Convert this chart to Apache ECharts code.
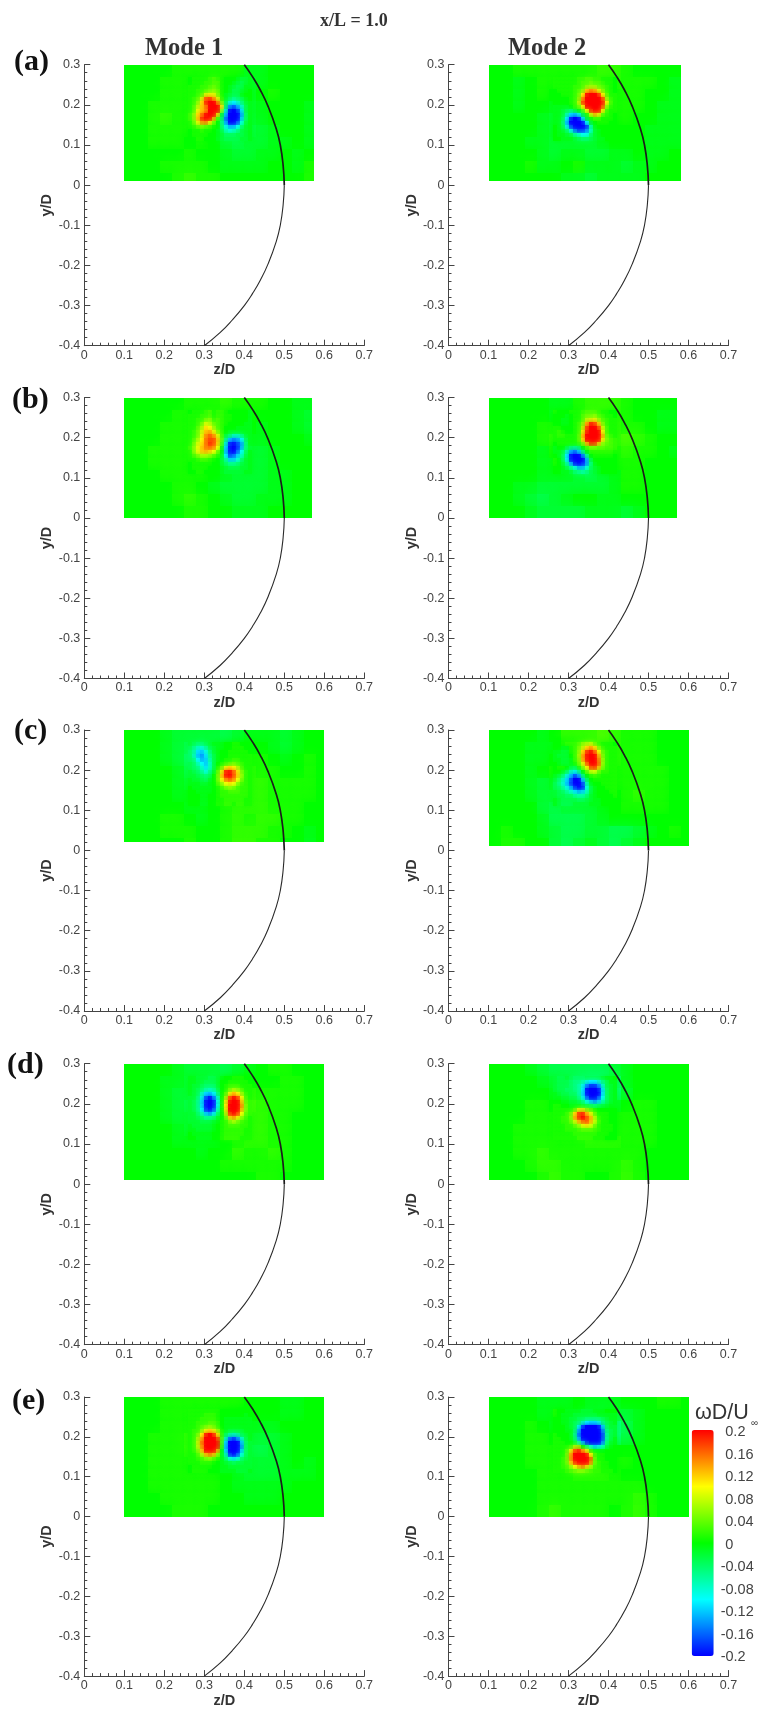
<!DOCTYPE html>
<html><head><meta charset="utf-8">
<style>html,body{margin:0;padding:0;background:#fff}#c{width:771px;height:1709px;filter:blur(0.5px)}</style>
<script src="https://cdn.jsdelivr.net/npm/echarts@6/dist/echarts.min.js"></script>
</head><body><div id="c"></div>
<script>
// Vorticity, in hundredths of wD/Uinf.
// bg*: whole measured plane, coarse cells, rows from y/D = 0.3 downward, columns from z/D = 0.1.
// core*: vortex region, fine cells, rows from y/D = 0.27 downward, columns from z/D = 0.26.
const bgA1=[[0,0,0,0,1,1,1,1,1,1,-1,-1,0,0,0,0,0],[0,0,0,1,1,1,1,2,2,-1,-2,-1,0,0,0,0,0],[0,0,0,1,1,1,1,2,0,-2,-2,0,1,0,0,0,0],[0,0,1,1,1,1,2,2,-3,-3,-2,-1,0,0,0,-1,0],[0,0,1,2,1,1,2,2,-3,-3,-2,-1,0,0,0,-1,0],[0,0,1,1,1,1,1,1,-3,-4,-3,-2,-1,0,0,-1,0],[0,0,1,1,1,0,1,0,-2,-3,-2,-2,-1,-1,0,-1,1],[0,0,0,0,0,1,0,0,-1,-2,-2,-1,-1,0,-1,0,1],[0,0,0,1,1,1,1,0,-1,-1,-1,-1,0,0,-1,1,2],[0,0,0,0,1,2,1,1,0,0,0,0,0,0,0,1,2]];
const bgA2=[[0,0,1,1,1,1,1,1,1,2,2,1,0,0,0,0,0],[0,0,-1,0,1,1,1,1,2,3,2,1,1,1,0,-1,0],[0,0,-1,0,1,0,0,0,2,2,1,1,1,0,0,-1,0],[0,0,-1,0,0,-1,0,0,0,1,1,1,1,0,-1,-1,0],[0,0,0,0,-1,-2,-1,0,0,1,1,1,0,0,-1,-1,0],[0,0,0,0,-1,-2,-1,-1,-2,-1,0,0,0,-1,-1,-1,0],[0,0,0,-1,-1,-2,-2,-2,-2,-1,0,0,0,-1,-1,-1,0],[0,0,0,0,-1,-2,-1,-1,-2,-2,-1,-1,0,-1,-1,0,0],[0,0,0,1,-1,-1,0,1,-1,-1,-1,-2,-1,-1,0,0,0],[0,0,0,0,0,0,-1,-1,-2,-1,-1,-1,-1,0,0,0,0]];
const bgB1=[[0,0,0,0,0,1,1,1,2,1,1,1,0,0,-1,-1,0],[0,0,0,0,1,1,1,1,1,1,1,0,0,0,-1,-2,0],[0,0,0,1,1,1,1,1,1,0,0,-1,0,0,-1,-2,0],[0,0,0,1,1,1,2,2,0,-1,-1,-1,0,0,0,-1,0],[0,0,1,1,1,1,2,2,0,-2,-2,-2,-1,0,0,0,0],[0,0,1,1,1,1,1,1,-1,-2,-2,-2,-1,0,0,0,0],[0,0,0,1,1,1,1,0,-1,-2,-2,-2,-1,-1,0,0,0],[0,0,0,0,1,1,0,-1,-2,-2,-2,-2,-1,-1,0,0,0],[0,0,0,0,1,2,1,0,-1,-2,-2,-1,-1,-1,0,0,0],[0,0,0,0,0,1,1,0,0,-1,-1,-1,0,0,0,0,0]];
const bgB2=[[0,0,0,0,0,-1,-1,1,2,2,2,1,0,0,0,0,0],[0,0,0,0,0,-1,-1,1,2,3,2,1,0,0,-1,-1,0],[0,0,0,0,1,1,1,1,2,2,2,1,1,0,-1,-1,0],[0,0,0,0,1,2,2,1,1,2,2,3,2,1,0,0,0],[0,0,0,0,-1,1,1,0,0,1,1,2,1,1,0,-1,0],[0,0,0,0,-1,-1,-1,-1,-2,0,1,1,1,0,0,0,0],[0,0,0,0,-1,-1,-1,-2,-3,-2,-1,1,1,0,0,0,0],[0,0,-1,-1,-2,-2,-2,-2,-2,-2,-1,1,1,0,0,0,0],[0,0,-1,-2,-3,-2,-1,0,0,-1,-1,0,0,0,0,0,0],[0,0,0,-1,-2,-2,-2,-2,-1,-1,-1,-2,-1,0,0,0,0]];
const bgC1=[[0,0,0,-1,-2,-2,-2,-2,-3,-2,-1,-1,-1,-2,-1,0,0],[0,0,0,-1,-2,-3,-4,-3,-2,-1,0,0,-1,-2,-1,0,0],[0,0,0,-1,-2,-4,-5,-3,-1,0,1,1,0,-1,0,1,0],[0,0,0,0,-1,-3,-3,-2,0,1,2,1,1,0,0,1,0],[0,0,0,0,-1,-2,-2,-1,0,1,2,2,1,1,1,1,0],[0,0,0,0,-1,-1,-1,0,1,2,2,2,1,1,1,1,0],[0,0,0,0,0,-1,-1,0,1,2,2,2,1,1,1,0,0],[0,0,0,1,1,0,-1,0,1,2,1,2,2,1,1,0,0],[0,0,0,1,1,1,0,0,1,2,2,2,1,1,0,-1,0],[0,0,0,0,0,1,0,0,1,2,2,1,1,0,0,-1,0]];
const bgC2=[[0,0,0,0,-1,0,2,2,2,3,2,1,1,1,0,0,0],[0,0,0,-1,-1,-1,0,1,2,3,2,1,1,1,0,0,0],[0,0,0,-1,-1,0,0,0,2,2,2,1,1,1,0,0,0],[0,0,0,-1,0,1,0,0,1,2,1,1,1,1,1,0,0],[0,0,0,-1,-2,-1,-1,-2,0,1,1,1,1,1,1,0,0],[0,0,0,-1,-2,-2,-2,-2,-2,0,0,1,2,1,1,0,0],[0,0,0,0,-2,-3,-2,-2,-2,-1,0,1,1,1,1,0,0],[0,0,0,0,-1,-3,-3,-3,-2,-1,0,0,0,0,0,0,0],[0,1,0,0,-1,-2,-3,-3,-2,-2,-3,-3,-2,-1,0,1,0],[0,1,1,0,0,-2,-3,-2,-1,-2,-3,-2,-1,0,0,0,0]];
const bgD1=[[0,0,0,0,-1,-2,-2,-2,-3,-2,-1,0,1,1,0,0,0],[0,0,0,-1,-1,-2,-2,-3,-2,0,0,0,0,1,1,0,0],[0,0,0,-1,-2,-2,-3,-4,0,2,2,1,1,1,1,0,0],[0,0,0,-1,-2,-3,-3,-4,0,3,3,2,1,1,1,0,0],[0,0,0,-1,-2,-2,-2,-2,0,2,2,2,1,1,0,0,0],[0,0,0,0,-1,-2,-2,-2,0,2,2,2,1,1,0,0,0],[0,0,0,0,-1,-1,-1,-1,0,1,2,2,1,1,0,0,0],[0,0,0,0,0,0,-1,0,0,2,1,1,2,1,0,0,0],[0,0,0,0,0,0,0,0,1,1,1,1,1,1,0,0,0],[0,0,0,0,0,0,0,0,0,0,0,1,1,0,0,0,0]];
const bgD2=[[0,0,0,-1,-2,-3,-3,-3,-3,-3,-2,-1,0,0,0,0,0],[0,0,0,0,-1,-2,-3,-4,-6,-6,-5,-1,0,0,0,0,0],[0,0,0,0,0,-1,-2,-4,-10,-10,-6,-2,0,0,0,0,0],[0,0,0,1,1,0,0,-1,-3,-3,-2,0,1,1,0,0,0],[0,0,0,1,1,1,1,5,6,3,1,1,1,1,0,0,0],[0,0,1,1,1,1,2,3,4,3,1,1,1,1,0,0,0],[0,0,1,1,1,1,1,1,2,2,2,1,1,1,0,0,0],[0,0,1,1,2,1,1,1,1,1,1,1,1,0,0,0,0],[0,0,0,1,2,2,1,1,1,1,1,2,1,0,0,0,0],[0,0,0,0,1,2,1,1,0,0,1,2,1,0,0,0,0]];
const bgE1=[[0,0,0,1,1,1,1,1,1,1,0,0,0,-1,-1,0,0],[0,0,0,1,1,1,1,1,1,0,0,0,0,-1,-1,0,0],[0,0,0,1,1,1,1,1,1,-1,-1,-1,-1,0,0,0,0],[0,0,1,1,1,2,2,1,1,-2,-2,-2,-2,-1,0,0,0],[0,0,1,1,1,2,2,1,1,-2,-3,-3,-2,-1,0,0,0],[0,0,1,1,1,1,1,1,0,-1,-2,-2,-2,-1,0,-1,0],[0,0,1,1,1,1,1,1,0,-1,-2,-2,-2,-1,-1,-1,0],[0,0,1,1,1,1,1,1,0,-1,-1,-1,-1,-1,0,0,0],[0,0,0,1,1,1,1,1,0,0,-1,-1,-1,0,0,0,0],[0,0,0,0,1,1,1,0,0,0,0,0,0,0,0,0,0]];
const bgE2=[[0,0,0,0,-1,-1,-1,0,-1,-1,-1,0,0,0,1,1,0],[0,0,0,0,-1,-1,-1,-1,-2,-3,-2,-2,-1,0,0,0,0],[0,0,0,1,0,-1,-1,-1,-5,-8,-6,-3,-1,0,0,0,0],[0,0,0,1,1,0,0,0,-5,-8,-6,-3,-1,0,0,0,0],[0,0,0,1,1,1,1,2,5,3,0,0,0,0,0,0,0],[0,0,0,1,1,1,1,3,5,3,1,1,0,0,0,0,0],[0,0,0,0,1,1,1,2,2,2,1,0,0,0,0,0,0],[0,0,0,0,1,1,1,1,1,1,1,1,1,0,0,0,0],[0,0,0,0,1,1,1,1,1,1,1,1,2,1,0,0,0],[0,0,0,0,1,2,1,1,1,1,0,1,2,1,0,0,0]];

const coreA1=[[0,1,1,1,1,2,3,2,1,0,0,0,-1,-2,-2,-1],[0,1,1,1,2,2,3,3,1,0,0,-1,-2,-3,-2,-1],[1,1,1,2,2,3,4,3,1,0,-1,-2,-3,-3,-1,-1],[1,1,2,2,3,4,5,4,1,0,-1,-3,-3,-2,-1,0],[1,1,2,3,8,9,9,5,1,-1,-2,-3,-3,-1,0,0],[1,2,3,8,16,17,14,9,2,-1,-3,-5,-4,-3,-1,0],[1,2,5,11,18,20,20,15,5,-3,-8,-10,-8,-5,-2,-1],[1,3,7,12,15,20,20,20,11,-4,-14,-16,-13,-8,-3,-1],[1,3,9,12,14,20,20,20,6,-8,-19,-20,-18,-11,-3,-1],[2,5,11,15,19,20,20,12,-2,-12,-20,-20,-20,-13,-4,-1],[2,5,12,18,20,20,14,3,-4,-15,-20,-20,-20,-12,-4,-1],[1,4,9,14,15,11,5,0,-5,-13,-20,-20,-17,-9,-3,-1],[1,2,4,5,4,3,1,0,-4,-9,-13,-13,-10,-5,-2,-1],[0,1,1,2,1,1,0,-1,-3,-7,-9,-8,-6,-3,-2,-1],[0,1,1,1,1,0,0,-1,-2,-4,-4,-4,-3,-3,-2,-1],[0,0,1,1,0,0,0,-1,-2,-3,-3,-3,-3,-2,-2,-1]];
const coreA2=[[1,1,1,1,1,1,2,2,3,3,2,2,1,1,1,0],[1,1,1,1,1,1,2,3,3,4,3,3,2,1,1,0],[1,1,1,1,1,2,2,3,5,6,6,4,3,2,1,0],[0,1,1,1,1,2,3,5,12,14,13,9,5,2,1,0],[0,0,1,1,1,2,4,10,19,20,20,18,10,4,1,1],[0,0,0,0,1,2,5,14,20,20,20,20,17,6,2,1],[0,0,0,0,1,2,7,17,20,20,20,20,19,10,3,1],[-1,-1,-1,-1,0,2,4,10,20,20,20,20,17,6,2,1],[-1,-1,-2,-3,-4,-2,0,3,10,18,20,20,11,3,1,1],[-1,-1,-2,-6,-11,-12,-9,-3,1,8,13,11,4,2,1,0],[-1,-1,-3,-10,-18,-20,-19,-11,-2,1,3,3,1,1,1,0],[-1,-1,-4,-12,-20,-20,-20,-19,-10,-2,0,1,1,1,0,0],[0,-1,-3,-9,-17,-20,-20,-20,-18,-7,-1,0,0,0,0,0],[0,-1,-2,-4,-9,-15,-18,-18,-15,-8,-2,-1,0,0,0,0],[0,-1,-1,-2,-3,-6,-8,-10,-10,-5,-2,-1,0,0,0,0],[0,0,-1,-1,-1,-2,-3,-4,-4,-3,-2,-1,-1,0,0,0]];
const coreB1=[[0,1,1,1,2,3,1,2,2,1,0,0,0,0,0,-1],[1,1,1,2,2,3,1,2,2,1,1,0,0,0,0,-1],[1,1,2,2,4,5,2,3,2,1,1,0,0,0,0,-1],[1,1,2,4,8,7,4,3,2,1,0,0,0,0,-1,-1],[1,1,3,6,11,10,6,3,2,0,0,0,-1,-1,-1,-1],[1,2,4,8,12,13,9,5,2,0,-1,-1,-1,-1,-1,-1],[1,2,4,9,14,16,14,9,3,-2,-4,-7,-7,-5,-2,-1],[1,3,6,10,15,17,17,12,4,-5,-12,-14,-13,-10,-4,-1],[1,4,8,11,15,18,17,12,3,-8,-18,-19,-17,-13,-5,-1],[2,5,9,12,15,16,15,10,1,-11,-19,-20,-18,-13,-5,-2],[1,5,9,12,13,12,10,5,0,-12,-19,-20,-16,-10,-4,-1],[1,3,5,7,7,6,4,2,-1,-10,-17,-16,-12,-8,-3,-1],[1,1,2,3,3,2,1,0,-2,-6,-12,-12,-9,-5,-2,-1],[0,1,1,1,1,1,0,0,-2,-4,-6,-6,-5,-3,-2,-1],[0,1,1,1,1,0,0,0,-1,-2,-3,-3,-3,-2,-2,-1],[0,0,1,1,0,0,0,0,-1,-2,-2,-2,-2,-2,-1,-1]];
const coreB2=[[1,0,0,0,1,1,1,2,3,3,3,2,1,1,0,0],[0,0,0,-1,0,1,1,3,4,4,5,3,2,1,1,0],[0,0,-1,-1,0,1,1,3,7,8,9,6,3,2,1,1],[0,0,-1,-1,0,1,2,5,13,18,17,12,5,2,1,1],[1,1,0,0,0,1,2,7,17,20,20,17,8,3,1,1],[1,2,1,0,0,1,2,9,18,20,20,20,10,3,1,1],[1,2,2,1,1,1,3,12,20,20,20,20,13,4,2,1],[1,1,1,1,1,1,3,11,20,20,20,20,11,5,3,2],[0,1,1,1,1,1,2,5,13,18,18,13,6,4,3,2],[-1,0,0,-2,-4,-5,-4,0,3,5,5,4,4,3,3,2],[-1,-1,-2,-7,-13,-15,-12,-5,0,2,2,2,2,2,2,1],[0,-1,-3,-10,-19,-20,-20,-15,-6,0,1,1,1,1,1,0],[1,0,-3,-10,-19,-20,-20,-20,-13,-3,0,0,0,0,0,0],[1,0,-2,-6,-13,-19,-20,-19,-14,-5,-1,0,0,0,0,0],[0,0,-1,-3,-6,-9,-13,-13,-9,-4,-2,-1,0,0,0,0],[0,0,-1,-1,-2,-4,-5,-6,-5,-3,-2,-1,0,0,0,0]];
const coreC1=[[-2,-3,-4,-4,-3,-2,-1,-1,-1,0,0,1,1,0,0,0],[-3,-5,-7,-8,-6,-3,-2,-1,-1,0,0,1,1,1,0,0],[-4,-6,-11,-12,-9,-5,-2,-1,0,0,1,1,1,1,1,0],[-4,-7,-12,-14,-11,-6,-3,-1,0,0,1,1,1,1,1,1],[-4,-5,-10,-13,-12,-7,-3,-1,0,1,1,2,2,1,1,1],[-3,-4,-7,-10,-12,-8,-3,0,1,2,3,4,3,2,1,1],[-3,-4,-5,-8,-11,-8,-3,1,4,9,11,10,7,3,1,1],[-2,-3,-4,-6,-9,-6,-2,3,9,18,19,16,11,5,2,1],[-2,-2,-3,-4,-5,-4,0,4,12,19,20,17,12,6,2,1],[-1,-2,-2,-3,-4,-2,0,4,10,15,17,15,10,5,2,1],[-1,-1,-1,-2,-2,-1,0,3,6,10,11,10,6,3,2,1],[0,-1,-1,-1,-1,-1,0,1,3,5,6,5,3,2,2,1],[0,0,-1,-1,-1,-1,0,1,2,2,3,3,3,2,2,1],[0,0,0,-1,-1,0,0,1,2,2,2,2,2,2,2,1],[0,0,0,-1,-1,0,0,1,1,2,2,2,2,2,1,1],[0,0,0,-1,-1,0,0,1,1,2,2,1,2,2,1,1]];
const coreC2=[[0,0,1,2,2,2,3,5,6,7,4,2,1,1,1,0],[0,0,-1,-1,1,2,4,7,11,13,11,5,2,1,1,1],[-1,-1,-2,-2,1,2,5,11,17,19,16,10,4,2,1,1],[-1,-2,-2,-2,0,2,6,13,19,20,20,13,5,2,1,1],[-1,-1,-2,-2,-1,2,5,13,19,20,20,15,6,2,1,1],[0,-1,-2,-2,-1,1,4,9,16,20,20,16,6,2,1,1],[0,1,1,0,-2,-3,1,5,10,17,18,13,5,2,1,1],[0,0,-1,-3,-7,-9,-6,0,4,8,9,5,2,2,1,1],[-1,-2,-4,-8,-12,-16,-13,-5,0,2,3,2,1,1,1,1],[-2,-4,-7,-11,-16,-20,-20,-12,-4,0,1,1,1,1,1,1],[-3,-5,-8,-12,-17,-20,-20,-17,-7,-1,0,0,1,1,1,1],[-3,-4,-6,-9,-13,-18,-20,-19,-9,-3,-1,0,0,1,1,1],[-2,-3,-4,-6,-8,-11,-13,-12,-8,-3,-1,0,0,0,1,1],[-2,-3,-3,-4,-4,-6,-7,-7,-5,-2,-1,0,0,0,0,1],[-1,-2,-3,-3,-3,-3,-4,-4,-3,-2,-1,-1,0,0,0,0],[-1,-2,-3,-3,-3,-2,-2,-2,-2,-1,-1,-1,0,0,0,0]];
const coreD1=[[-1,-1,-2,-2,-2,-3,-3,-2,-1,0,0,1,1,1,0,0],[-1,-1,-2,-2,-3,-3,-3,-2,0,0,1,1,1,1,1,0],[-1,-2,-2,-3,-4,-4,-4,-2,0,1,2,2,2,1,1,1],[-1,-2,-3,-4,-6,-7,-6,-3,0,1,4,6,5,3,1,1],[-1,-2,-3,-7,-11,-12,-10,-5,0,3,9,12,10,6,2,1],[-2,-2,-4,-9,-16,-19,-15,-8,0,6,16,19,17,10,3,1],[-2,-3,-5,-11,-19,-20,-19,-10,0,9,19,20,20,12,4,2],[-2,-3,-5,-11,-19,-20,-19,-10,0,10,20,20,20,14,5,2],[-2,-3,-5,-10,-18,-20,-17,-8,0,9,20,20,20,13,5,2],[-2,-2,-4,-7,-12,-14,-11,-5,0,7,18,20,18,10,4,2],[-2,-2,-3,-4,-6,-6,-5,-2,0,4,12,14,11,6,3,1],[-2,-2,-2,-3,-3,-3,-2,-1,1,2,5,7,5,3,2,1],[-1,-2,-2,-2,-2,-2,-1,0,1,2,3,3,3,2,2,1],[-1,-1,-2,-2,-2,-2,-1,0,1,2,2,2,2,2,1,1],[0,-1,-1,-1,-1,-1,0,0,1,2,2,2,2,2,1,1],[0,0,-1,-1,-1,-1,0,0,1,2,2,2,2,1,1,1]];
const coreD2=[[-2,-3,-3,-2,-3,-4,-4,-4,-3,-3,-3,-3,-2,-1,-1,0],[-2,-3,-3,-3,-4,-5,-5,-6,-8,-10,-10,-8,-5,-3,-1,-1],[-2,-3,-3,-3,-4,-5,-6,-9,-14,-17,-17,-14,-8,-3,-2,-1],[-2,-3,-3,-4,-4,-5,-6,-10,-19,-20,-20,-19,-11,-4,-2,-1],[-1,-2,-3,-3,-4,-4,-6,-11,-19,-20,-20,-20,-11,-4,-2,-1],[-1,-1,-2,-2,-3,-3,-5,-9,-16,-20,-20,-17,-10,-4,-2,-1],[0,0,-1,-1,-2,-2,-3,-5,-9,-12,-14,-12,-7,-4,-2,-1],[1,1,0,0,-1,-1,-1,-2,-3,-4,-5,-4,-3,-2,-1,-1],[1,1,1,1,1,3,8,8,5,3,1,0,0,0,0,0],[1,1,1,2,4,11,17,18,13,9,4,1,1,1,0,0],[1,1,2,2,5,13,18,20,17,13,7,2,1,1,0,0],[1,1,2,2,4,8,13,16,17,13,8,3,1,1,0,0],[1,1,1,2,2,4,6,9,11,9,5,2,1,1,1,0],[1,1,1,2,2,2,3,4,4,4,3,2,1,1,1,0],[1,1,1,1,1,2,2,2,2,2,2,1,1,1,0,0],[1,1,1,1,1,1,2,2,2,2,1,1,1,0,0,0]];
const coreE1=[[1,1,1,1,1,1,1,1,0,0,0,0,0,0,0,0],[1,1,1,1,2,2,2,1,0,0,0,0,0,0,-1,0],[1,1,1,2,2,2,2,1,0,-1,-1,-1,-1,-1,-1,-1],[1,1,2,2,2,3,3,2,0,-1,-1,-1,-1,-1,-1,-1],[1,1,2,3,4,5,4,2,0,-1,-1,-1,-1,-1,-1,-1],[1,2,2,5,9,11,9,6,1,-1,-2,-2,-2,-2,-1,-1],[1,2,4,10,18,20,18,11,2,-3,-6,-7,-6,-3,-2,-1],[1,2,6,13,20,20,20,17,3,-7,-15,-17,-14,-8,-3,-1],[1,2,7,15,20,20,20,19,3,-11,-20,-20,-20,-12,-4,-2],[1,2,7,14,20,20,20,19,2,-12,-20,-20,-20,-14,-4,-2],[1,2,5,12,20,20,20,14,0,-11,-20,-20,-20,-12,-4,-2],[1,1,3,7,13,15,13,6,-1,-7,-18,-20,-17,-9,-4,-2],[1,1,2,3,5,6,4,2,-1,-4,-9,-11,-9,-5,-3,-2],[1,1,1,2,2,2,1,0,-1,-2,-3,-4,-3,-3,-2,-2],[0,1,1,1,1,1,0,0,-1,-1,-2,-2,-2,-2,-2,-2],[0,1,1,1,1,0,0,0,-1,-1,-1,-1,-2,-2,-2,-1]];
const coreE2=[[1,0,0,-1,-1,-1,-1,-2,-2,-2,-1,-1,-1,0,0,0],[1,0,-1,-1,-1,-2,-2,-2,-2,-2,-2,-1,-1,-1,-1,-1],[0,0,-1,-1,-2,-2,-3,-3,-4,-4,-4,-4,-3,-2,-1,-1],[0,0,-1,-1,-2,-3,-4,-7,-10,-11,-11,-9,-5,-3,-2,-1],[0,0,0,-1,-2,-3,-9,-17,-20,-20,-20,-19,-12,-4,-2,-2],[0,0,0,-1,-1,-4,-13,-20,-20,-20,-20,-20,-15,-5,-3,-2],[1,0,0,0,-1,-5,-15,-20,-20,-20,-20,-20,-17,-6,-3,-2],[1,1,0,0,-1,-4,-13,-20,-20,-20,-20,-20,-17,-6,-3,-1],[1,1,1,0,0,-2,-6,-13,-18,-20,-20,-20,-15,-5,-2,-1],[1,1,1,1,2,6,6,0,-4,-8,-12,-11,-8,-3,-1,0],[1,1,1,3,9,16,18,14,9,2,-1,-1,-1,0,0,0],[1,1,1,4,13,20,20,20,19,10,3,1,1,0,0,0],[1,1,2,4,14,20,20,20,20,16,4,1,1,0,0,0],[1,1,2,4,12,18,20,20,20,15,4,2,1,1,0,0],[1,1,2,3,6,10,13,15,12,7,3,2,1,1,0,0],[1,1,1,2,3,4,5,5,4,3,2,2,1,1,1,0]];

// Upper and lower parts of the body outline (z/D, y/D).
const outlineUpper=[[0.4,0.3],[0.42,0.271],[0.44,0.237],[0.46,0.195],[0.48,0.14],[0.49,0.1],[0.497,0.05],[0.5,0]];
const outlineLower=[[0.5,0],[0.497,-0.05],[0.49,-0.1],[0.48,-0.14],[0.46,-0.195],[0.44,-0.237],[0.42,-0.271],[0.4,-0.3],[0.37,-0.336],[0.34,-0.367],[0.3,-0.4]];

const bgFields=[[bgA1,bgA2],[bgB1,bgB2],[bgC1,bgC2],[bgD1,bgD2],[bgE1,bgE2]];
const coreFields=[[coreA1,coreA2],[coreB1,coreB2],[coreC1,coreC2],[coreD1,coreD2],[coreE1,coreE2]];
// Measured plane limits per row and column: [z max, y min]
const planeLimits=[[[0.575,0.01],[0.58,0.01]],[[0.57,0],[0.57,0]],[[0.6,0.02],[0.6,0.01]],[[0.6,0.01],[0.6,0.01]],[[0.6,0],[0.6,0]]];
const rowLabels=['(a)','(b)','(c)','(d)','(e)'];
const columnTitles=['Mode 1','Mode 2'];
const colorTicks=[-0.2,0.2];

const rowTops=[64.7,397.5,730,1063.7,1397];
const colLefts=[84.3,448.5];
const rowLabelPos=[[14,62],[12,400],[14,731],[7,1065],[12,1401]];

const sans='"Liberation Sans", Arial, sans-serif', serif='"Liberation Serif", "Times New Roman", serif';
const grid=[],xAxis=[],yAxis=[],series=[],cellSeriesIdx=[];
const axisColor='#444';

function cellsFor(bg,core){
  const out=[];
  bg.forEach((row,r)=>row.forEach((v,c)=>out.push([0.1+c*0.03,0.3-r*0.03,v/100,0.03,0.03])));
  core.forEach((row,r)=>row.forEach((v,c)=>out.push([0.26+c*0.01,0.27-r*0.01,v/100,0.01,0.01])));
  return out;
}
function makeRender(limit){
  return function(params,api){
    const z=api.value(0),y=api.value(1),w=api.value(3),h=api.value(4);
    const a=api.coord([z,y]);
    const b=api.coord([Math.min(z+w,limit[0]),Math.max(y-h,limit[1])]);
    const x0=Math.round(a[0]),y0=Math.round(a[1]),x1=Math.round(b[0]),y1=Math.round(b[1]);
    const tl=api.coord([0.1,0.3]),br=api.coord([limit[0],limit[1]]);
    const color=api.visual('color');
    // Soft edge on each cell so the field reads as smooth, kept inside the measured plane.
    return {type:'rect',shape:{x:x0,y:y0,width:x1-x0,height:y1-y0},
      style:{fill:color,shadowColor:color,shadowBlur:w>0.02?14:5},
      clipPath:{type:'rect',shape:{x:Math.round(tl[0]),y:Math.round(tl[1]),width:Math.round(br[0])-Math.round(tl[0]),height:Math.round(br[1])-Math.round(tl[1])}}};
  };
}
const arcs=[];
rowTops.forEach((top,r)=>{
  colLefts.forEach((left,c)=>{
    const i=grid.length;
    grid.push({left:left,top:top,width:280,height:281});
    xAxis.push({type:'value',gridIndex:i,min:0,max:0.7,interval:0.1,name:'z/D',nameLocation:'middle',nameGap:16,
      nameTextStyle:{fontFamily:sans,fontWeight:'bold',fontSize:14.5,color:'#333'},
      axisLine:{onZero:false,lineStyle:{color:axisColor,width:1}},
      axisTick:{show:true,inside:true,length:6,lineStyle:{color:axisColor}},
      minorTick:{show:true,splitNumber:5,length:3,lineStyle:{color:axisColor}},
      splitLine:{show:false},
      axisLabel:{margin:3,fontFamily:sans,fontSize:12.5,color:'#444',hideOverlap:false,showMinLabel:true,showMaxLabel:true}});
    yAxis.push({type:'value',gridIndex:i,min:-0.4,max:0.3,interval:0.1,name:'y/D',nameLocation:'middle',nameGap:27,
      nameTextStyle:{fontFamily:sans,fontWeight:'bold',fontSize:14.5,color:'#333'},
      axisLine:{onZero:false,lineStyle:{color:axisColor,width:1}},
      axisTick:{show:true,inside:true,length:6,lineStyle:{color:axisColor}},
      minorTick:{show:true,splitNumber:5,length:3,lineStyle:{color:axisColor}},
      splitLine:{show:false},
      axisLabel:{margin:4,fontFamily:sans,fontSize:12.5,color:'#444',hideOverlap:false,showMinLabel:true,showMaxLabel:true}});
    cellSeriesIdx.push(series.length);
    series.push({type:'custom',xAxisIndex:i,yAxisIndex:i,silent:true,animation:false,progressive:0,clip:false,z:2,
      dimensions:['z','y','v','w','h'],encode:{x:0,y:1},
      renderItem:makeRender(planeLimits[r][c]),data:cellsFor(bgFields[r][c],coreFields[r][c])});
    arcs.push({type:'line',xAxisIndex:i,yAxisIndex:i,silent:true,animation:false,smooth:true,symbol:'none',z:3,
      lineStyle:{color:'#1c1c1c',width:1.7},data:outlineUpper});
    arcs.push({type:'line',xAxisIndex:i,yAxisIndex:i,silent:true,animation:false,smooth:true,symbol:'none',z:3,
      lineStyle:{color:'#2a2a2a',width:1.1},data:outlineLower});
  });
});
arcs.forEach(s=>series.push(s));

// Colour-bar tick labels live on their own axis
grid.push({left:691.7,top:1432,width:22,height:225});
xAxis.push({type:'value',gridIndex:10,min:0,max:1,show:false});
yAxis.push({type:'value',gridIndex:10,min:colorTicks[0],max:colorTicks[1],interval:0.04,position:'right',
  axisLine:{show:false},axisTick:{show:false},splitLine:{show:false},
  axisLabel:{margin:7,align:'left',hideOverlap:false,showMinLabel:true,showMaxLabel:true,fontFamily:sans,fontSize:14.5,color:'#444',
    formatter:v=>{const t=String(+v.toFixed(2));return v>=0?'{p|}{n|'+t+'}':'{n|'+t+'}';},
    rich:{p:{width:4.6},n:{fontFamily:sans,fontSize:14.5,color:'#444'}}}});

const text=(t,x,y,font,fill,extra)=>Object.assign({type:'text',x:x,y:y,silent:true,style:Object.assign({text:t,x:0,y:0,font:font,fill:fill,align:'left',verticalAlign:'middle'},extra||{})});
const graphic=[
  text('x/L = 1.0',320,21,'bold 18px '+serif,'#333'),
  text(columnTitles[0],145,49,'bold 24.5px '+serif,'#333'),
  text(columnTitles[1],508,49,'bold 24.5px '+serif,'#333'),
  text('ωD/U',695,1413,'21.5px '+sans,'#333'),
  text('∞',751,1423,'10px '+sans,'#444')
];
rowLabels.forEach((l,i)=>graphic.push(text(l,rowLabelPos[i][0],rowLabelPos[i][1],'bold 30px '+serif,'#111')));

const chart=echarts.init(document.getElementById('c'),null,{renderer:'canvas',width:771,height:1709});
chart.setOption({animation:false,backgroundColor:'#fff',grid,xAxis,yAxis,series,graphic,
  visualMap:[{type:'continuous',min:colorTicks[0],max:colorTicks[1],dimension:2,seriesIndex:cellSeriesIdx,calculable:false,show:true,
    left:691.7,top:1430,itemWidth:22,itemHeight:226,padding:0,text:null,realtime:false,hoverLink:false,
    inRange:{color:['#0000ff','#00ffff','#00ff00','#ffff00','#ff0000']}}]});
</script></body></html>
